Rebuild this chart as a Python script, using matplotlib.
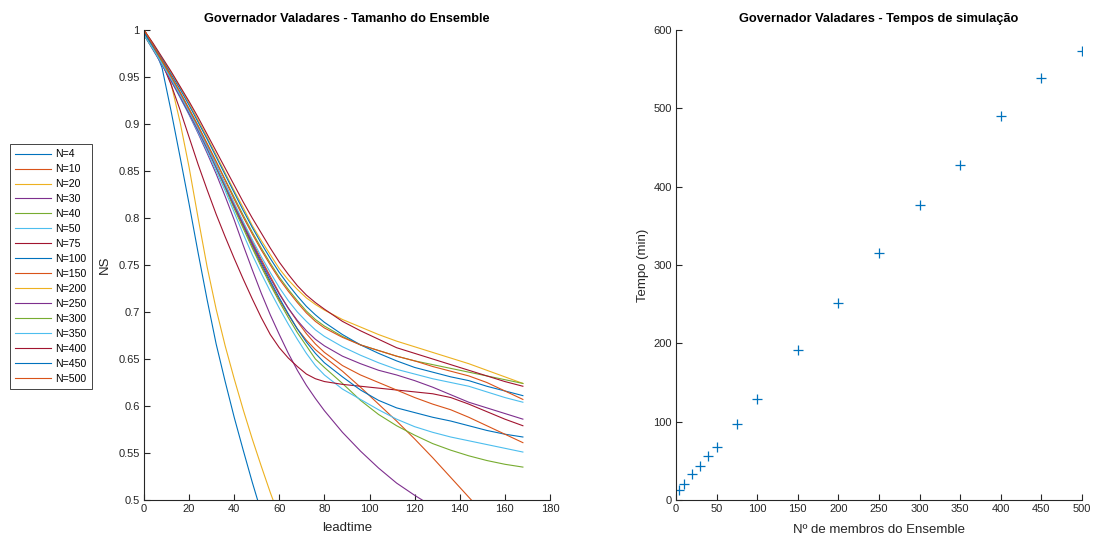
import numpy as np
import matplotlib
matplotlib.use('Agg')
import matplotlib.pyplot as plt
from matplotlib.ticker import FormatStrFormatter

plt.rcParams['font.family'] = ['Liberation Sans', 'DejaVu Sans']

# lead time grid (hours)
leadtime = [0, 4, 8, 12, 16, 20, 24, 28, 32, 36, 40, 44, 48, 52, 56, 60, 64, 68, 72, 76, 80,
            88, 96, 104, 112, 120, 128, 136, 144, 152, 160, 168]

# NS per ensemble size
ns_4 = [1.0, 0.984, 0.96, 0.914, 0.865, 0.815, 0.763, 0.713, 0.666, 0.626, 0.588, 0.553, 0.519, 0.487, 0.457, 0.43]
ns_10 = [1.0, 0.984, 0.967, 0.95, 0.932, 0.913, 0.894, 0.874, 0.854, 0.833, 0.812, 0.791, 0.77, 0.75, 0.731, 0.713,
         0.697, 0.682, 0.67, 0.66, 0.652, 0.637, 0.62, 0.602, 0.584, 0.565, 0.545, 0.524, 0.503, 0.482, 0.46, 0.44]
ns_20 = [1.0, 0.985, 0.967, 0.943, 0.902, 0.854, 0.8, 0.748, 0.703, 0.664, 0.629, 0.596, 0.565, 0.536, 0.508, 0.482, 0.458]
ns_30 = [0.995, 0.98, 0.964, 0.947, 0.929, 0.91, 0.89, 0.869, 0.847, 0.823, 0.798, 0.771, 0.745, 0.72, 0.697, 0.676,
         0.656, 0.638, 0.622, 0.608, 0.595, 0.572, 0.552, 0.534, 0.518, 0.505, 0.493, 0.48]
ns_40 = [1.0, 0.984, 0.967, 0.95, 0.932, 0.913, 0.894, 0.874, 0.853, 0.832, 0.81, 0.789, 0.768, 0.748, 0.729, 0.711,
         0.694, 0.678, 0.664, 0.65, 0.641, 0.624, 0.606, 0.591, 0.579, 0.569, 0.56, 0.553, 0.547, 0.542, 0.538, 0.535]
ns_50 = [0.995, 0.979, 0.963, 0.946, 0.928, 0.91, 0.891, 0.871, 0.85, 0.829, 0.806, 0.783, 0.761, 0.741, 0.722, 0.704,
         0.687, 0.671, 0.656, 0.643, 0.633, 0.618, 0.607, 0.596, 0.586, 0.578, 0.572, 0.567, 0.563, 0.559, 0.555, 0.551]
ns_75 = [0.998, 0.982, 0.965, 0.942, 0.915, 0.886, 0.857, 0.83, 0.804, 0.78, 0.757, 0.735, 0.714, 0.694, 0.676, 0.662,
         0.651, 0.642, 0.634, 0.629, 0.626, 0.623, 0.621, 0.619, 0.617, 0.615, 0.613, 0.609, 0.602, 0.594, 0.586, 0.579]
ns_100 = [0.997, 0.982, 0.966, 0.949, 0.932, 0.914, 0.895, 0.876, 0.856, 0.835, 0.814, 0.793, 0.772, 0.752, 0.733, 0.715,
          0.698, 0.682, 0.668, 0.656, 0.646, 0.631, 0.617, 0.606, 0.598, 0.593, 0.588, 0.584, 0.579, 0.574, 0.57, 0.567]
ns_150 = [1.0, 0.984, 0.967, 0.95, 0.932, 0.914, 0.895, 0.876, 0.856, 0.836, 0.815, 0.795, 0.775, 0.756, 0.738, 0.72,
          0.704, 0.69, 0.677, 0.666, 0.657, 0.643, 0.633, 0.625, 0.617, 0.609, 0.602, 0.596, 0.588, 0.579, 0.57, 0.561]
ns_200 = [1.0, 0.985, 0.97, 0.955, 0.939, 0.922, 0.904, 0.886, 0.867, 0.848, 0.829, 0.811, 0.792, 0.776, 0.761, 0.746,
          0.734, 0.724, 0.715, 0.708, 0.702, 0.692, 0.684, 0.676, 0.669, 0.663, 0.657, 0.651, 0.645, 0.638, 0.631, 0.624]
ns_250 = [0.995, 0.979, 0.963, 0.946, 0.929, 0.911, 0.893, 0.874, 0.854, 0.834, 0.813, 0.793, 0.773, 0.754, 0.736, 0.719,
          0.704, 0.691, 0.68, 0.671, 0.664, 0.653, 0.645, 0.638, 0.633, 0.627, 0.62, 0.612, 0.604, 0.598, 0.592, 0.586]
ns_300 = [0.995, 0.98, 0.965, 0.949, 0.933, 0.916, 0.898, 0.879, 0.86, 0.841, 0.822, 0.803, 0.785, 0.768, 0.752, 0.737,
          0.724, 0.712, 0.701, 0.692, 0.685, 0.674, 0.665, 0.659, 0.653, 0.648, 0.644, 0.64, 0.636, 0.632, 0.628, 0.624]
ns_350 = [0.995, 0.98, 0.964, 0.948, 0.931, 0.913, 0.895, 0.876, 0.856, 0.836, 0.816, 0.796, 0.777, 0.759, 0.742, 0.726,
          0.712, 0.7, 0.69, 0.681, 0.674, 0.663, 0.654, 0.646, 0.639, 0.634, 0.629, 0.625, 0.621, 0.615, 0.609, 0.604]
ns_400 = [1.0, 0.986, 0.971, 0.956, 0.94, 0.924, 0.907, 0.889, 0.871, 0.853, 0.835, 0.817, 0.8, 0.784, 0.768, 0.753,
          0.74, 0.728, 0.718, 0.71, 0.703, 0.69, 0.68, 0.671, 0.662, 0.656, 0.65, 0.644, 0.638, 0.632, 0.626, 0.621]
ns_450 = [0.998, 0.984, 0.969, 0.953, 0.937, 0.92, 0.902, 0.884, 0.865, 0.846, 0.827, 0.808, 0.79, 0.773, 0.757, 0.742,
          0.729, 0.717, 0.706, 0.697, 0.689, 0.676, 0.665, 0.656, 0.648, 0.641, 0.636, 0.631, 0.627, 0.621, 0.616, 0.611]
ns_500 = [1.0, 0.984, 0.968, 0.951, 0.934, 0.916, 0.898, 0.879, 0.86, 0.84, 0.82, 0.801, 0.783, 0.766, 0.75, 0.735,
          0.722, 0.71, 0.699, 0.69, 0.683, 0.673, 0.665, 0.659, 0.653, 0.648, 0.642, 0.637, 0.632, 0.625, 0.616, 0.607]

members = [4, 10, 20, 30, 40, 50, 75, 100, 150, 200, 250, 300, 350, 400, 450, 500]
ns_list = [ns_4, ns_10, ns_20, ns_30, ns_40, ns_50, ns_75, ns_100, ns_150, ns_200,
           ns_250, ns_300, ns_350, ns_400, ns_450, ns_500]

# simulation time (min) per ensemble size
sim_time = [12.5, 20, 33, 44, 56, 68, 97, 129, 191, 252, 315, 376, 428, 490, 539, 573]

# matlab default color order
colors = [(0, 0.447, 0.741), (0.85, 0.325, 0.098), (0.929, 0.694, 0.125),
          (0.494, 0.184, 0.556), (0.466, 0.674, 0.188), (0.301, 0.745, 0.933),
          (0.635, 0.078, 0.184)]
axcol = (0.15, 0.15, 0.15)
fs_tick = 8
fs_lab = 9.5
fs_title = 9.2


def style_axes(ax):
    for s in ['top', 'right']:
        ax.spines[s].set_visible(False)
    for s in ['left', 'bottom']:
        ax.spines[s].set_color(axcol)
        ax.spines[s].set_linewidth(0.8)
    ax.tick_params(direction='in', length=4, width=0.8, colors=axcol, labelsize=fs_tick, pad=3)


fig = plt.figure(figsize=(10.94, 5.41), dpi=100)
ax1 = fig.add_axes([0.1316, 0.0758, 0.3711, 0.8688])
ax2 = fig.add_axes([0.6179, 0.0758, 0.3711, 0.8688])

handles = []
for i, (n, ns) in enumerate(zip(members, ns_list)):
    h, = ax1.plot(leadtime[:len(ns)], ns, color=colors[i % 7], lw=0.8, label='N=%d' % n)
    handles.append(h)

ax1.set_xlim(0, 180)
ax1.set_ylim(0.5, 1)
ax1.set_xticks(np.arange(0, 181, 20))
ax1.set_yticks(np.arange(0.5, 1.001, 0.05))
ax1.yaxis.set_major_formatter(FormatStrFormatter('%g'))
style_axes(ax1)
ax1.text(0.5, -0.06, 'leadtime', transform=ax1.transAxes, ha='center', va='center',
         fontsize=fs_lab, color=axcol)
ax1.text(-0.097, 0.5, 'NS', transform=ax1.transAxes, ha='center', va='center',
         rotation=90, fontsize=fs_lab, color=axcol)
ax1.set_title('Governador Valadares - Tamanho do Ensemble', fontsize=fs_title,
              fontweight='bold', pad=6)

leg = fig.legend(handles=handles, loc='upper left', bbox_to_anchor=(10 / 1094, 1 - 144 / 541),
                 fontsize=7.6, frameon=True, fancybox=False, edgecolor=axcol, framealpha=1,
                 handlelength=3.4, handletextpad=0.4, labelspacing=0.47, borderpad=0.5,
                 borderaxespad=0)
leg.get_frame().set_linewidth(0.6)

ax2.plot(members, sim_time, '+', color=colors[0], ms=7, mew=0.9)
ax2.set_xlim(0, 500)
ax2.set_ylim(0, 600)
ax2.set_xticks(np.arange(0, 501, 50))
ax2.set_yticks(np.arange(0, 601, 100))
style_axes(ax2)
ax2.text(0.5, -0.064, 'Nº de membros do Ensemble', transform=ax2.transAxes, ha='center',
         va='center', fontsize=fs_lab, color=axcol)
ax2.text(-0.081, 0.5, 'Tempo (min)', transform=ax2.transAxes, ha='center', va='center',
         rotation=90, fontsize=fs_lab, color=axcol)
ax2.set_title('Governador Valadares - Tempos de simulação', fontsize=fs_title,
              fontweight='bold', pad=6)

fig.savefig('out.png', dpi=100)
